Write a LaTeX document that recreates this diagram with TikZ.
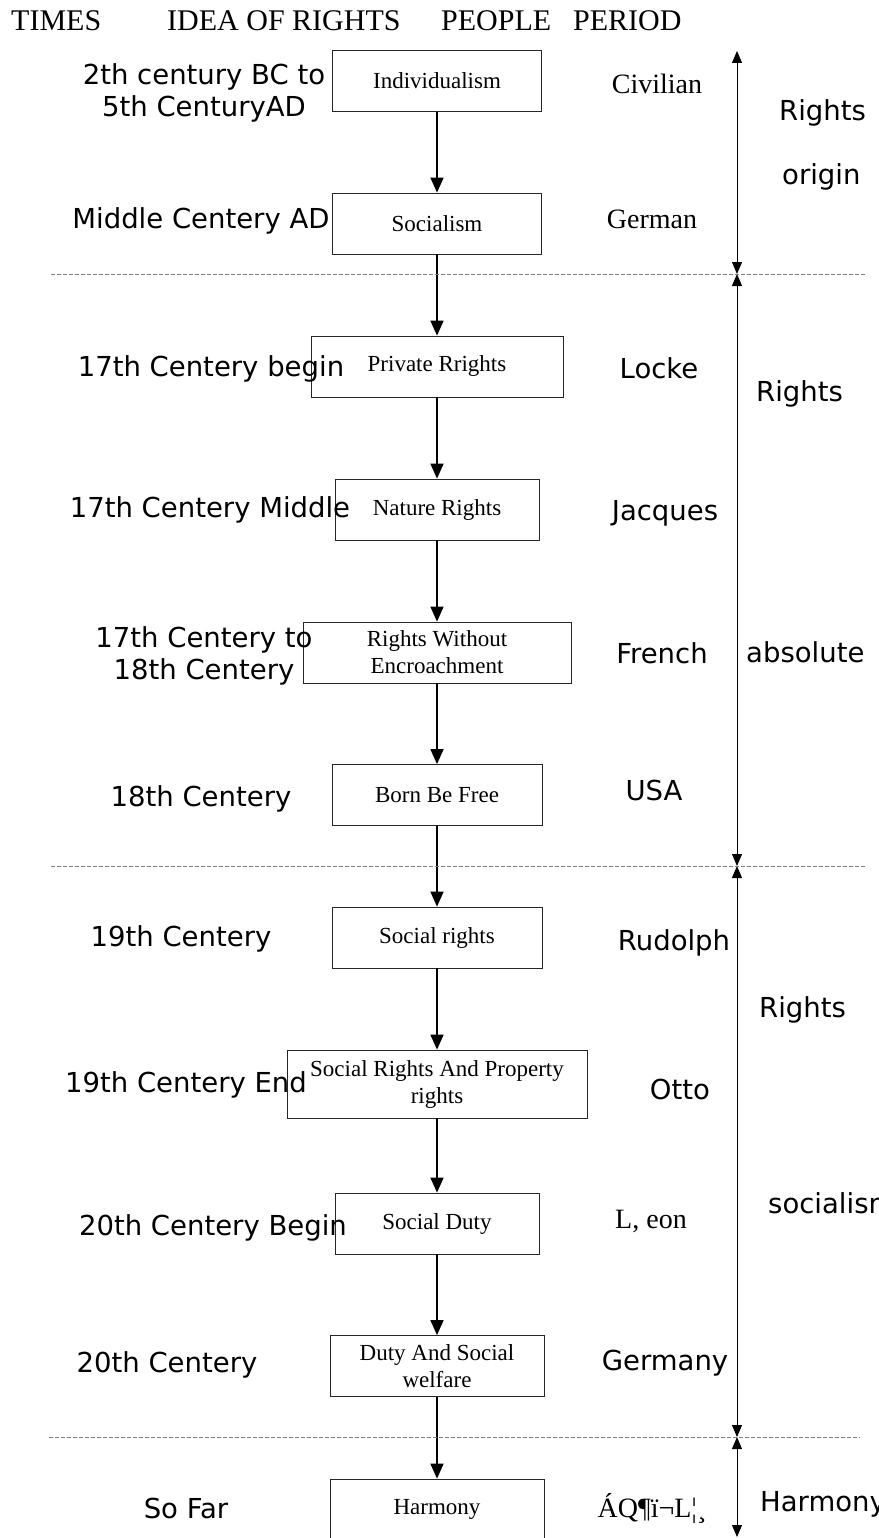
\documentclass[tikz,border=0pt]{standalone}
\usepackage{fontspec}
\setmainfont{Liberation Serif}
\setsansfont{DejaVu Sans}
\usetikzlibrary{arrows.meta}
\tikzstyle{idea}=[draw=black!85,line width=0.8pt,inner sep=0pt,align=center,minimum height=61pt,font=\fontsize{23}{27}\selectfont]
\tikzstyle{times}=[anchor=base,inner sep=0pt,align=center,font=\sffamily\fontsize{27.5}{32}\selectfont]
\tikzstyle{people}=[anchor=base,inner sep=0pt,font=\sffamily\fontsize{27.5}{32}\selectfont]
\tikzstyle{peoplerm}=[anchor=base,inner sep=0pt,font=\fontsize{28}{32}\selectfont]
\tikzstyle{period}=[anchor=base west,inner sep=0pt,font=\sffamily\fontsize{27.5}{32}\selectfont]
\tikzstyle{header}=[anchor=base west,inner sep=0pt,font=\fontsize{30}{34}\selectfont]
\tikzstyle{flow}=[line width=1.6pt,-{Triangle[width=13pt,length=15pt]}]
\tikzstyle{span}=[line width=1pt,{Triangle[width=10pt,length=12pt]}-{Triangle[width=10pt,length=12pt]}]
\tikzstyle{divider}=[gray,line width=0.8pt,dash pattern=on 4pt off 2pt]

\begin{document}
\begin{tikzpicture}[x=1pt,y=-1pt]
  \useasboundingbox[fill=white] (0,0) rectangle (878,1538);
  % column heads
  \node[header] (hTimes) at (11,31) {TIMES};
  \node[header] (hIdea) at (167,31) {IDEA OF RIGHTS};
  \node[header] (hPeople) at (441,31) {PEOPLE};
  \node[header] (hPeriod) at (573,31) {PERIOD};

  % ideas of rights
  \node[idea,minimum width=209pt] (ind) at (437,81) {Individualism};
  \node[idea,minimum width=209pt] (soc) at (437,223.5) {Socialism};
  \node[idea,minimum width=252pt] (priv) at (437,366.5) {Private Rrights};
  \node[idea,minimum width=204pt] (nat) at (437,509.5) {Nature Rights};
  \node[idea,minimum width=268pt] (rwe) at (437,652.5) {Rights Without\\Encroachment};
  \node[idea,minimum width=210pt] (born) at (437,795) {Born Be Free};
  \node[idea,minimum width=210pt] (socr) at (437,937.5) {Social rights};
  \node[idea,minimum width=300pt,minimum height=68pt] (srap) at (437,1084) {Social Rights And Property\\rights};
  \node[idea,minimum width=204pt] (duty) at (437,1223.5) {Social Duty};
  \node[idea,minimum width=214pt] (daw) at (437,1366) {Duty And Social\\welfare};
  \node[idea,minimum width=214pt] (harm) at (437,1509.5) {Harmony};

  \path[flow] (ind.south) edge (soc.north);
  \path[flow] (soc.south) edge (priv.north);
  \path[flow] (priv.south) edge (nat.north);
  \path[flow] (nat.south) edge (rwe.north);
  \path[flow] (rwe.south) edge (born.north);
  \path[flow] (born.south) edge (socr.north);
  \path[flow] (socr.south) edge (srap.north);
  \path[flow] (srap.south) edge (duty.north);
  \path[flow] (duty.south) edge (daw.north);
  \path[flow] (daw.south) edge (harm.north);

  % times
  \node[times,anchor=center] (t1) at (204,93) {2th century BC to\\5th CenturyAD};
  \node[times] (t2) at (201,229) {Middle Centery AD};
  \node[times] (t3) at (211,376) {17th Centery begin};
  \node[times] (t4) at (210,517) {17th Centery Middle};
  \node[times,anchor=center] (t5) at (204,656) {17th Centery to\\18th Centery};
  \node[times] (t6) at (201,806) {18th Centery};
  \node[times] (t7) at (181,946) {19th Centery};
  \node[times] (t8) at (186,1092) {19th Centery End};
  \node[times] (t9) at (213,1235) {20th Centery Begin};
  \node[times] (t10) at (167,1372) {20th Centery};
  \node[times] (t11) at (186,1518) {So Far};

  % people
  \node[peoplerm] (p1) at (657,94) {Civilian};
  \node[peoplerm] (p2) at (652,229) {German};
  \node[people] (p3) at (659,378) {Locke};
  \node[people] (p4) at (665,520) {Jacques};
  \node[people] (p5) at (662,663) {French};
  \node[people] (p6) at (654,800) {USA};
  \node[people] (p7) at (674,950) {Rudolph};
  \node[people] (p8) at (680,1099) {Otto};
  \node[peoplerm] (p9) at (651,1228) {L, eon};
  \node[people] (p10) at (665,1370) {Germany};
  \node[peoplerm] (p11) at (652,1517) {ÁQ¶ï¬L¦¸};

  % periods
  \coordinate (s0) at (737,51);
  \coordinate (s1) at (737,274);
  \coordinate (s2) at (737,866);
  \coordinate (s3) at (737,1437);
  \coordinate (s4) at (737,1537);
  \draw[span] (s0) -- (s1);
  \draw[span] (s1) -- (s2);
  \draw[span] (s2) -- (s3);
  \draw[span] (s3) -- (s4);
  \node[period] (r1) at (779,121) {Rights};
  \node[period] (r2) at (782,185) {origin};
  \node[period] (r3) at (756,401) {Rights};
  \node[period] (r4) at (746,662) {absolute};
  \node[period] (r5) at (759,1017) {Rights};
  \node[period] (r6) at (768,1213) {socialism};
  \node[period] (r7) at (760,1511) {Harmony};

  % dividers
  \coordinate (d1a) at (51,274); \coordinate (d1b) at (865,274);
  \coordinate (d2a) at (51,866); \coordinate (d2b) at (865,866);
  \coordinate (d3a) at (49,1437); \coordinate (d3b) at (860,1437);
  \draw[divider] (d1a) -- (d1b);
  \draw[divider] (d2a) -- (d2b);
  \draw[divider] (d3a) -- (d3b);
\end{tikzpicture}
\end{document}
